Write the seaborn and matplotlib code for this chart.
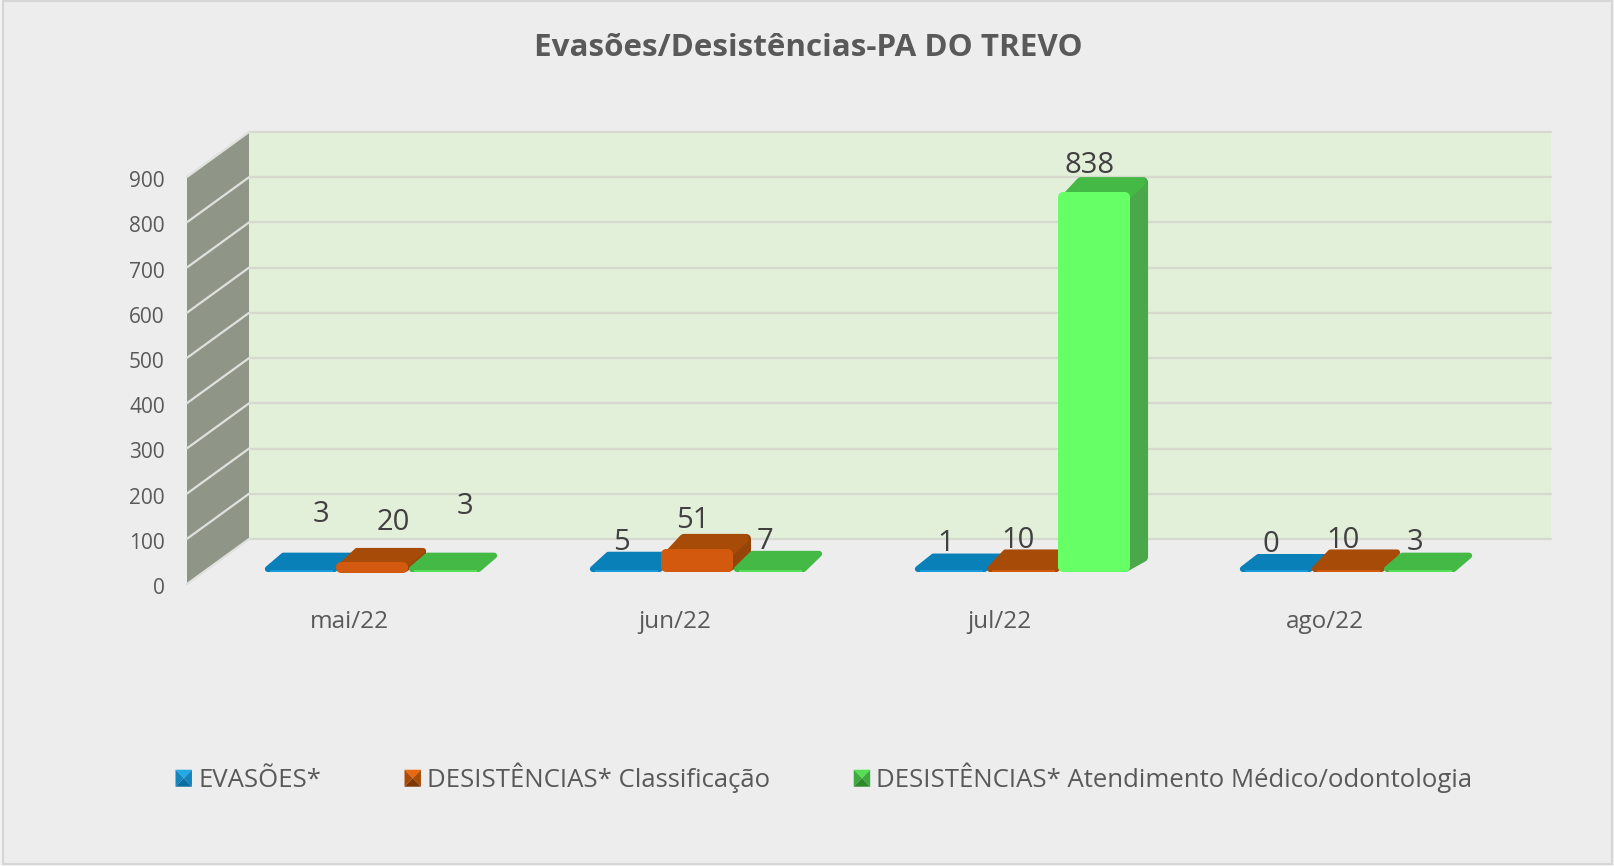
import matplotlib
matplotlib.use("Agg")
import matplotlib.pyplot as plt
import pandas as pd
import seaborn as sns
from matplotlib.legend_handler import HandlerBase
from matplotlib.patches import Patch, Polygon, Rectangle
from matplotlib.transforms import IdentityTransform, ScaledTranslation

meses = ["mai/22", "jun/22", "jul/22", "ago/22"]
evasoes = [3, 5, 1, 0]
desist_class = [20, 51, 10, 10]
desist_atend = [3, 7, 838, 3]
serie_nomes = ["EVASÕES*", "DESISTÊNCIAS* Classificação", "DESISTÊNCIAS* Atendimento Médico/odontologia"]
yticks = [0, 100, 200, 300, 400, 500, 600, 700, 800, 900]

W, H = 1615, 866
FONT = "Open Sans"
TXT = "#595959"
DEPTH = (18, 15)  # pixel depth of the fake-3D bars
PT = 0.72         # points per pixel at dpi 100


def axes_at(fig, left, right, top, bottom, **kw):
    return fig.add_axes([left / W, 1 - bottom / H, (right - left) / W, (bottom - top) / H], **kw)


sns.set_theme(style="white")
plt.rcParams["font.family"] = [FONT, "DejaVu Sans"]
fig = plt.figure(figsize=(W / 100, H / 100), dpi=100, facecolor="#f4f4f4")
fig.add_artist(Rectangle((3 / W, 1 - 864 / H), 1609 / W, 863 / H, transform=fig.transFigure,
                         facecolor="#ededed", edgecolor="#d6d6d6", lw=1.6, zorder=-1))

df = pd.DataFrame({
    "mes": meses * 3,
    "serie": [serie_nomes[0]] * 4 + [serie_nomes[1]] * 4 + [serie_nomes[2]] * 4,
    "valor": evasoes + desist_class + desist_atend,
})

# back wall
back = axes_at(fig, 249, 1551, 132, 539, facecolor="#e2efd9", zorder=0)
back.set_xlim(-0.5, 3.5)
back.set_ylim(0, 900)
back.set_xticks([])
back.set_yticks(yticks)
back.tick_params(left=False, labelleft=False)
back.grid(axis="y", color="#d6d9cd", lw=1.6, clip_on=False)
back.set_axisbelow(True)
sns.despine(ax=back, left=True, bottom=True, top=True, right=True)

# front plane: carries tick labels
front = axes_at(fig, 187, 1487, 177, 584, facecolor="none", zorder=1)
front.set_xlim(-0.5, 3.5)
front.set_ylim(0, 900)
front.set_xticks(range(len(meses)), meses)
front.set_yticks(yticks)
front.tick_params(axis="y", left=False, pad=10, labelsize=15, labelcolor=TXT)
front.tick_params(axis="x", bottom=False, pad=13, labelsize=17.5, labelcolor=TXT)
sns.despine(ax=front, left=True, bottom=True, top=True, right=True)
nudge = ScaledTranslation(0, -1.5 / 72, fig.dpi_scale_trans)
for lab in front.get_yticklabels():
    lab.set_transform(lab.get_transform() + nudge)

# side wall joins the front plane and the back wall
fa = front.transData
ba = back.transData
wall = [fa.transform((-0.5, 0)), ba.transform((-0.5, 0)), ba.transform((-0.5, 900)), fa.transform((-0.5, 900))]
front.add_patch(Polygon(wall, transform=IdentityTransform(), facecolor="#8f9688", edgecolor="none",
                        clip_on=False, zorder=1))
for t in yticks:
    p0, p1 = fa.transform((-0.5, t)), ba.transform((-0.5, t))
    front.plot([p0[0], p1[0]], [p0[1], p1[1]], transform=IdentityTransform(), color="#dfe1dd", lw=1.6,
               clip_on=False, zorder=1.5)

# bar plane
ax = axes_at(fig, 209.5, 1509.5, 164, 572, facecolor="none", zorder=2)
palette = ["#1594d0", "#d9600f", "#66ff66"]
sns.barplot(data=df, x="mes", y="valor", hue="serie", hue_order=serie_nomes, palette=palette,
            order=meses, width=0.665, gap=0, saturation=1, legend=False, ax=ax)
ax.set_xlim(-0.5, 3.5)
ax.set_ylim(0, 900)
ax.axis("off")

shades = [
    dict(front="#1a9ada", top="#0a80b8", side="#0a80b8"),
    dict(front="#d2590d", top="#a64b08", side="#96450a"),
    dict(front="#66ff66", top="#45b945", side="#4aa84a"),
]
flat_green_front = "#55e055"
label_lift = [[56, 27, 28, 28], [40, 28, 27, 27], [64, 27, 27, 28]]
label_shift = [21, -4, -4, -4]
label_vals = [evasoes, desist_class, desist_atend]


def rounded(points, color, r, z):
    ax.add_patch(Polygon(points, transform=IdentityTransform(), facecolor=color, edgecolor=color,
                         lw=2 * r * PT, joinstyle="round", clip_on=False, zorder=z))


fig.canvas.draw()
for s, cont in enumerate(ax.containers):
    for m, bar in enumerate(cont.patches):
        x0, y0 = ax.transData.transform((bar.get_x(), 0))
        x1, y1 = ax.transData.transform((bar.get_x() + bar.get_width(), bar.get_height()))
        h = y1 - y0
        dx, dy = DEPTH
        z = 3 + s * 2
        st = shades[s]
        bar.set_visible(False)
        if h < 6:
            # nearly flat bar: one rounded parallelogram with a thin bright lip
            tr = 3.0
            lip = flat_green_front if s == 2 else st["front"]
            ytop = y0 + h + dy + 3
            rounded([(x0 + 1.3 * tr, y0 + tr), (x1 - 0.5 * tr, y0 + tr), (x1 + dx - 1.3 * tr, ytop - tr),
                     (x0 + dx + 0.5 * tr, ytop - tr)], st["top"], tr, z + 0.2)
            rounded([(x0 + 2 * tr, y0 + 1), (x1 - tr, y0 + 1), (x1 - tr, y0 + 1.5), (x0 + 2 * tr, y0 + 1.5)],
                    lip, 1.0, z + 0.3)
        else:
            tr = 5.0 if h > 15 else 3.0
            r = min(5.0, (h + 3) / 2)
            rounded([(x1 - tr, y0 + tr), (x1 + dx - tr, y0 + dy), (x1 + dx - tr, y1 + dy - tr), (x1 - tr, y1 - tr)],
                    st["side"], tr, z)
            rounded([(x0 + 2 * tr, y1 - tr + 1), (x1 - tr, y1 - tr + 1), (x1 + dx - 1.5 * tr, y1 + dy - tr),
                     (x0 + dx + tr, y1 + dy - tr)], st["top"], tr, z + 0.2)
            rounded([(x0 + r, y0 + r), (x1 - r, y0 + r), (x1 - r, y1 - r), (x0 + r, y1 - r)], st["front"], r, z + 0.4)
        ax.annotate(str(label_vals[s][m]), xy=(bar.get_x() + bar.get_width() / 2, bar.get_height()),
                    xytext=(label_shift[m] * PT, label_lift[s][m] * PT), textcoords="offset points",
                    ha="center", va="center", fontsize=21, color="#404040", zorder=20, annotation_clip=False)

fig.text(808 / W, 1 - 48 / H, "Evasões/Desistências-PA DO TREVO", ha="center", va="center",
         fontsize=22.6, fontweight="bold", color=TXT)


class PyramidHandler(HandlerBase):
    """Legend key: small square shaded like a pyramid seen from above."""

    def create_artists(self, legend, orig_handle, xd, yd, width, height, fontsize, trans):
        light, mid, dark = orig_handle.shades
        x0, y0 = -xd, -yd
        x1, y1 = x0 + width, y0 + height
        cx, cy = (x0 + x1) / 2, (y0 + y1) / 2
        faces = [([(x0, y1), (x1, y1), (cx, cy)], light),
                 ([(x0, y0), (x0, y1), (cx, cy)], mid),
                 ([(x1, y0), (x1, y1), (cx, cy)], mid),
                 ([(x0, y0), (x1, y0), (cx, cy)], dark)]
        return [Polygon(p, facecolor=c, edgecolor="none", transform=trans) for p, c in faces]


legend_shades = [("#25a8e6", "#1285bd", "#0b6ea3"), ("#e8690f", "#a84c08", "#7c3706"), ("#52e052", "#3fa83f", "#2c8a2c")]
handles = []
for c, n in zip(legend_shades, serie_nomes):
    hd = Patch(facecolor=c[0], label=n)
    hd.shades = c
    handles.append(hd)
fig.legend(handles=handles, handler_map={Patch: PyramidHandler()}, loc="center", bbox_to_anchor=(824 / W, 1 - 778 / H),
           ncol=3, frameon=False, fontsize=18.5, labelcolor=TXT, handlelength=0.64, handleheight=0.64,
           handletextpad=0.24, columnspacing=3.25)

fig.savefig("out.png", dpi=100, facecolor=fig.get_facecolor())
